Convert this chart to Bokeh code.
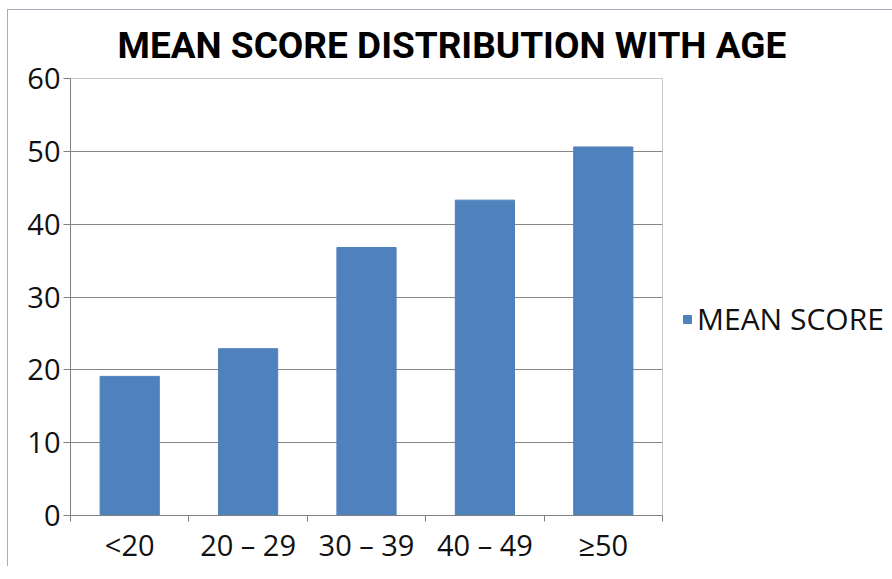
from bokeh.plotting import figure
from bokeh.models import FixedTicker, Legend, LegendItem, Range1d, ColumnDataSource
from bokeh.embed import file_html
from bokeh.resources import INLINE

categories = ["<20", "20 \u2013 29", "30 \u2013 39", "40 \u2013 49", "\u226550"]
mean_score = [19.1, 22.9, 36.8, 43.3, 50.6]
y_ticks = [0, 10, 20, 30, 40, 50, 60]
title_text = "MEAN SCORE DISTRIBUTION WITH AGE"
series_name = "MEAN SCORE"

xs = [i + 0.5 for i in range(len(categories))]
src = ColumnDataSource(dict(x=xs, top=mean_score, cat=categories))

p = figure(frame_width=592, frame_height=437, output_backend="svg", toolbar_location=None,
           x_range=Range1d(0, len(categories)), y_range=Range1d(0, 60),
           min_border_left=62, min_border_top=68, min_border_right=10, min_border_bottom=50)

p.title.text = title_text
p.title.text_font = "Roboto"
p.title.text_font_style = "bold"
p.title.text_font_size = "37px"
p.title.text_color = "#000000"
p.title.align = "left"
p.title.offset = 47
p.title.standoff = 23

r = p.vbar(x="x", top="top", width=0.5, source=src, fill_color="#4f81bd", line_color="#4f81bd")

p.xaxis.ticker = FixedTicker(ticks=xs, minor_ticks=list(range(len(categories) + 1)))
p.xaxis.major_label_overrides = {x: c for x, c in zip(xs, categories)}
p.xaxis.major_tick_out = 0
p.xaxis.major_tick_in = 0
p.xaxis.minor_tick_out = 6
p.xaxis.minor_tick_in = 0
p.yaxis.ticker = FixedTicker(ticks=y_ticks)
p.yaxis.major_tick_out = 7
p.yaxis.major_tick_in = 0
for ax in (p.xaxis, p.yaxis):
    ax.axis_line_color = "#808080"
    ax.major_tick_line_color = "#808080"
    ax.minor_tick_line_color = "#808080"
    ax.major_label_text_font = "Open Sans"
    ax.major_label_text_font_size = "29px"
    ax.major_label_text_color = "#111111"
p.yaxis.minor_tick_line_color = None
p.xaxis.major_label_standoff = 3
p.yaxis.major_label_standoff = 3

p.xgrid.grid_line_color = None
p.ygrid.ticker = FixedTicker(ticks=y_ticks)
p.ygrid.grid_line_color = "#868686"
p.outline_line_color = "#c8c8c8"

legend = Legend(items=[LegendItem(label=series_name, renderers=[r])], location=(20, 176))
legend.label_text_font = "Open Sans"
legend.label_text_font_size = "30px"
legend.label_text_color = "#111111"
legend.glyph_width = 10
legend.glyph_height = 10
legend.label_standoff = 5
legend.padding = 0
legend.margin = 0
legend.border_line_color = None
legend.background_fill_alpha = 0
p.add_layout(legend, "right")

p.styles = {"border-top": "1px solid #a6aebd", "border-left": "1px solid #a6aebd",
            "margin-left": "7px", "margin-top": "9px"}

open("out.html", "w").write(file_html(p, INLINE))
